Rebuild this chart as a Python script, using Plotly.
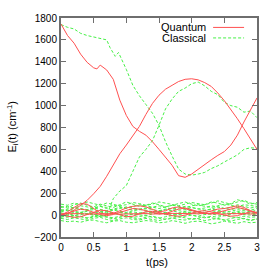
import plotly.graph_objects as go

# ---------------- data ----------------
t_grid = [round(0.1 * i, 1) for i in range(31)]

# Quantum (red, solid)
q1_t = [0.0, 0.1, 0.2, 0.3, 0.4, 0.5, 0.55, 0.6, 0.7, 0.8, 0.9, 1.0, 1.1, 1.2, 1.3, 1.4, 1.5, 1.6, 1.7, 1.8,
        1.9, 2.0, 2.1, 2.2, 2.3, 2.4, 2.5, 2.6, 2.7, 2.8, 2.9, 3.0]
q1_v = [1745, 1640, 1570, 1470, 1395, 1345, 1335, 1370, 1325, 1240, 1050, 910, 810, 765, 730, 670, 600, 530,
        455, 360, 345, 375, 420, 465, 505, 545, 580, 640, 730, 850, 965, 1070]
q2_v = [0, 15, 45, 90, 135, 195, 262, 355, 455, 560, 640, 730, 810, 920, 1020, 1095, 1150, 1185, 1220, 1240,
        1245, 1235, 1210, 1175, 1115, 1045, 965, 880, 790, 690, 600]
q3_v = [12, 14, 16, 13, 9, 11, 15, 17, 13, 9, 11, 16, 18, 14, 10, 9, 13, 16, 14, 10, 8, 12, 15, 13, 10, 9,
        14, 16, 13, 10, 12]
q4_v = [0, 30, 70, 105, 100, 60, 20, 5, 15, 40, 65, 80, 85, 75, 50, 30, 40, 65, 75, 60, 40, 25, 20, 35, 55,
        60, 75, 85, 70, 40, 20]
q5_v = [0, -10, -20, -15, 5, 30, 45, 40, 20, 0, -15, -10, 10, 30, 35, 25, 10, -5, -10, 0, 20, 35, 40, 30,
        15, 0, -10, -5, 15, 30, 25]
q6_v = [0, 20, 40, 55, 45, 25, 5, -5, 5, 25, 45, 60, 55, 40, 20, 10, 15, 35, 55, 65, 50, 30, 15, 10, 25,
        45, 60, 70, 55, 35, 20]

# Classical (green, dashed)
c1_t = [0.0, 0.1, 0.2, 0.3, 0.4, 0.5, 0.6, 0.7, 0.75, 0.8, 0.83, 0.88, 0.95, 1.0, 1.1, 1.2, 1.3, 1.4, 1.5,
        1.6, 1.7, 1.8, 1.9, 2.0, 2.1, 2.2, 2.3, 2.4, 2.5, 2.6, 2.7, 2.8, 2.9, 3.0]
c1_v = [1740, 1715, 1700, 1660, 1640, 1625, 1615, 1600, 1530, 1480, 1450, 1485, 1400, 1330, 1185, 1090,
        1010, 930, 820, 670, 540, 420, 375, 365, 375, 390, 425, 450, 485, 520, 550, 600, 615, 610]
c2_v = [0, 15, -10, 20, 35, 10, -15, 0, 150, 220, 270, 400, 530, 600, 680, 820, 970, 1060, 1130, 1160,
        1200, 1215, 1180, 1130, 1100, 1030, 1000, 985, 940, 950, 890]
c_noise = [
    [100, 90, 110, 95, 120, 105, 90, 110, 100, 85, 95, 115, 105, 90, 100, 120, 110, 95, 85, 100, 115, 105,
     95, 110, 130, 115, 100, 120, 135, 110, 100],
    [70, 80, 65, 85, 75, 60, 80, 70, 90, 75, 65, 80, 95, 85, 70, 60, 75, 90, 80, 65, 85, 95, 80, 70, 85,
     100, 90, 75, 95, 85, 80],
    [50, 40, 60, 55, 45, 65, 50, 40, 55, 70, 60, 45, 55, 65, 50, 40, 55, 60, 45, 50, 70, 60, 45, 55, 75,
     60, 50, 65, 55, 45, 60],
    [30, 45, 35, 25, 40, 50, 35, 30, 45, 35, 25, 40, 50, 45, 30, 35, 50, 40, 25, 35, 45, 30, 40, 55, 45,
     30, 35, 50, 40, 30, 45],
    [20, 10, 25, 15, 5, 20, 30, 15, 10, 25, 20, 5, 15, 30, 20, 10, 25, 15, 5, 20, 30, 25, 10, 15, 30, 20,
     10, 25, 15, 20, 10],
    [0, 10, -5, 5, 15, 0, -10, 5, 15, 5, -5, 10, 0, -5, 10, 20, 5, -5, 5, 15, 0, -10, 5, 10, 0, -5, 10,
     15, 5, 0, 10],
    [-10, -20, -5, -15, -25, -10, 0, -15, -25, -10, -5, -20, -15, -5, -20, -30, -15, -5, -20, -10, 0, -15,
     -25, -10, -20, -5, -15, -25, -10, -20, -15],
    [-30, -40, -25, -35, -45, -30, -20, -40, -50, -35, -25, -40, -45, -30, -40, -50, -35, -25, -40, -45,
     -30, -35, -50, -40, -30, -45, -55, -40, -30, -45, -35],
    [-50, -60, -55, -65, -50, -45, -60, -70, -55, -50, -65, -70, -60, -50, -55, -70, -65, -50, -60, -75,
     -60, -55, -65, -80, -70, -55, -65, -75, -60, -70, -65],
    [80, 65, 95, 110, 90, 75, 100, 85, 70, 95, 120, 100, 80, 90, 110, 95, 75, 90, 105, 120, 100, 85, 95,
     120, 110, 90, 105, 140, 125, 100, 115],
    [40, 55, 70, 60, 50, 65, 80, 60, 45, 60, 75, 65, 50, 60, 75, 85, 70, 55, 65, 80, 70, 55, 65, 85, 75,
     60, 70, 95, 80, 65, 75],
    [10, -5, 15, 25, 10, 0, 15, 30, 20, 5, 15, 30, 20, 10, 25, 35, 20, 5, 15, 30, 20, 10, 25, 40, 30, 15,
     20, 35, 25, 15, 30],
    [-20, -5, -25, -10, -30, -15, -5, -20, -35, -20, -10, -25, -35, -20, -10, -25, -40, -30, -15, -25,
     -40, -30, -15, -25, -35, -45, -30, -20, -35, -50, -35],
]

x_ticks = [0, 0.5, 1, 1.5, 2, 2.5, 3]
x_tick_labels = ["0", "0.5", "1", "1.5", "2", "2.5", "3"]
y_ticks = list(range(-200, 1801, 200))

RED = "rgb(255,80,80)"
GREEN = "rgb(70,240,70)"

fig = go.Figure()

for v in c_noise:
    fig.add_trace(go.Scatter(x=t_grid, y=v, mode="lines", showlegend=False,
                             line=dict(color=GREEN, width=1, dash="3px,2px")))
for tt, v in [(c1_t, c1_v), (t_grid, c2_v)]:
    fig.add_trace(go.Scatter(x=tt, y=v, mode="lines", name="Classical", showlegend=False,
                             line=dict(color=GREEN, width=1, dash="3px,2px")))
for tt, v in [(q1_t, q1_v), (t_grid, q2_v), (t_grid, q3_v), (t_grid, q4_v), (t_grid, q5_v),
              (t_grid, q6_v)]:
    fig.add_trace(go.Scatter(x=tt, y=v, mode="lines", name="Quantum", showlegend=False,
                             line=dict(color=RED, width=1)))

FONT = "Liberation Sans, Arial, sans-serif"
axis_common = dict(showline=True, linecolor="rgb(110,110,110)", linewidth=2, mirror="ticks",
                   ticks="inside", ticklen=5, tickcolor="rgb(110,110,110)", tickwidth=1,
                   showgrid=False, zeroline=False,
                   tickfont=dict(family=FONT, size=10, color="black"))

fig.update_layout(
    width=275, height=269,
    margin=dict(l=61, r=18, t=13, b=32),
    paper_bgcolor="white", plot_bgcolor="white",
    showlegend=False,
    xaxis=dict(range=[0, 3], tickvals=x_ticks, ticktext=x_tick_labels, **axis_common),
    yaxis=dict(range=[-200, 1800], tickvals=y_ticks, **axis_common),
)

fig.add_annotation(text="t(ps)", xref="paper", yref="paper", x=0.49, y=-0.116,
                   xanchor="center", yanchor="middle", showarrow=False,
                   font=dict(family=FONT, size=11, color="black"))
fig.add_annotation(text="E<sub>i</sub>(t) (cm<sup>-1</sup>)", xref="paper", yref="paper",
                   x=-0.25, y=0.5, xanchor="center", yanchor="middle", textangle=-90,
                   showarrow=False, font=dict(family=FONT, size=11, color="black"))

for label, ypos, color, dash in [("Quantum", 0.957, RED, "solid"),
                                 ("Classical", 0.909, GREEN, "3px,2px")]:
    fig.add_annotation(text=label, xref="paper", yref="paper", x=0.748, y=ypos,
                       xanchor="right", yanchor="middle", showarrow=False,
                       font=dict(family=FONT, size=11, color="black"))
    fig.add_shape(type="line", xref="paper", yref="paper", x0=0.776, x1=0.934, y0=ypos, y1=ypos,
                  line=dict(color=color, width=1, dash=dash))

fig.write_html("out.html", config={"displayModeBar": False},
               post_script="document.body.style.margin='0';")
